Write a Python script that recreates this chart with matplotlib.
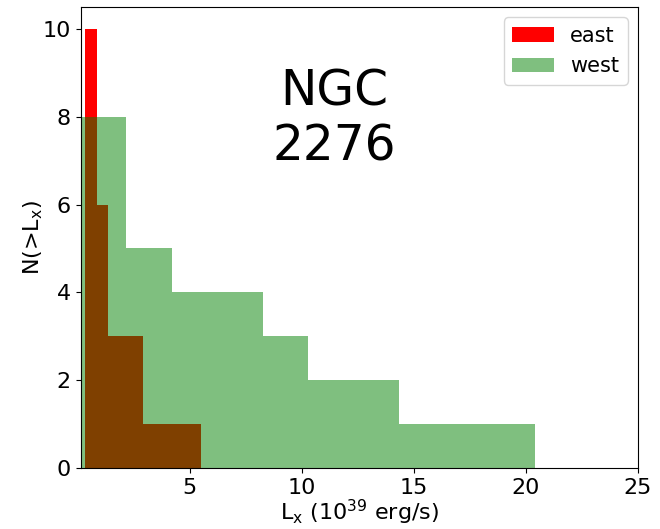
import numpy as np
import matplotlib.pyplot as plt

# X-ray luminosities of the sources in each half (10^39 erg/s)
east = np.array([0.35, 0.45, 0.6, 0.75, 0.95, 1.1, 1.25, 2.5, 2.8, 5.49])
west = np.array([0.14, 0.9, 1.6, 3.1, 7.5, 9.5, 13.5, 20.42])

fig = plt.figure(figsize=(6.6, 5.29), dpi=100)
ax = fig.add_axes([80.7 / 660, 1 - 468 / 529, (638 - 80.7) / 660, (468 - 7) / 529])

ax.hist(east, bins=10, cumulative=-1, color='r', label='east')
ax.hist(west, bins=10, cumulative=-1, color='g', alpha=0.5, label='west')

ax.set_xlim(west.min(), 25)
ax.set_xticks([5, 10, 15, 20, 25])
ax.tick_params(labelsize=16)
ax.set_xlabel(r'L$_{\rm x}$ (10$^{39}$ erg/s)', fontsize=16, labelpad=0)
ax.set_ylabel(r'N(>L$_{\rm x}$)', fontsize=16, labelpad=-2)
ax.text(11.44, 7.95, 'NGC\n2276', fontsize=35, ha='center', va='center')
ax.legend(loc='upper right', fontsize=15)

plt.savefig('out.png', dpi=100)
